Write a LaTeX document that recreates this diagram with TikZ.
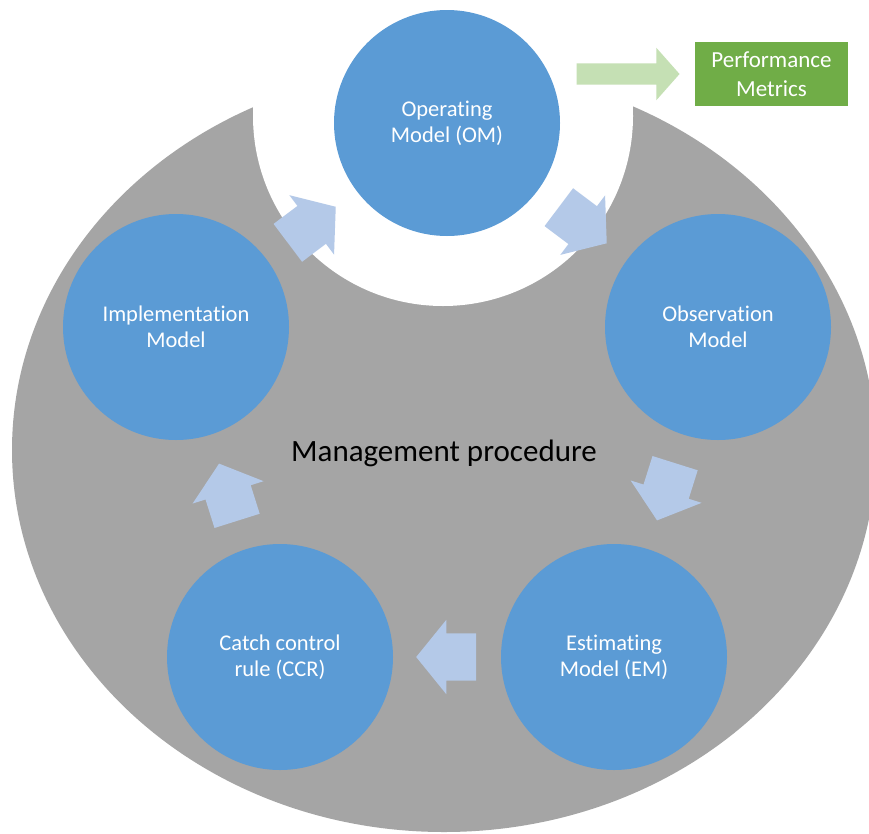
\documentclass[tikz,border=0pt]{standalone}
\usepackage{fontspec}
\setmainfont{Carlito}[Ligatures=NoCommon]
\usepackage{tikz}
\usetikzlibrary{shapes.arrows,positioning}

\definecolor{mpgrey}{HTML}{A5A5A5}
\definecolor{mpblue}{HTML}{5B9BD5}
\definecolor{mplight}{HTML}{B4C9E8}
\definecolor{mpgreen}{HTML}{70AD47}
\definecolor{mppale}{HTML}{C5E0B4}

\begin{document}
\begin{tikzpicture}[x=1pt,y=-1pt]
    \tikzset{vertex/.style = {shape=circle,fill=mpblue,minimum size=226pt,inner sep=0pt,align=center,text=white,font=\fontsize{22.5}{26}\selectfont}}
    \tikzset{flow/.style = {single arrow,fill=mplight,minimum height=60pt,inner xsep=0pt,inner ysep=23.5pt,single arrow head extend=13.5pt,single arrow tip angle=102,sloped,allow upside down,pos=0.412,anchor=tail}}
    \useasboundingbox (0,0) rectangle (869,833);
    \fill[white] (0,0) rectangle (869,833);
    % background
    \begin{scope}
    \clip (0,0) rectangle (869,833);
    \fill[mpgrey] (444,450) ellipse [x radius=432pt, y radius=382pt];
    \end{scope}
    \fill[white] (443,116) circle [radius=190pt];
    % vertices
    \node[vertex] (a) at (447,123) {Operating\\Model (OM)};
    \node[vertex] (b) at (718,327) {Observation\\Model};
    \node[vertex] (c) at (614,657) {Estimating\\Model (EM)};
    \node[vertex] (d) at (280,657) {Catch control\\rule (CCR)};
    \node[vertex] (e) at (176,327) {Implementation\\Model};
    \node[font=\fontsize{31}{37}\selectfont] (mp) at (444,453) {Management procedure};
    \node[fill=mpgreen,text=white,minimum width=153pt,minimum height=64pt,align=center,font=\fontsize{23}{29}\selectfont] (f) at (771.5,74) {Performance\\Metrics};
    %edges
    \path (a.center) -- (b.center) node[flow] (ab) {};
    \path (b.center) -- (c.center) node[flow] (bc) {};
    \path (c.center) -- (d.center) node[flow] (cd) {};
    \path (d.center) -- (e.center) node[flow] (de) {};
    \path (e.center) -- (a.center) node[flow] (ea) {};
    \node[single arrow,fill=mppale,minimum height=103pt,inner xsep=0pt,inner ysep=10.5pt,single arrow head extend=15.5pt,single arrow tip angle=97,left=15pt of f] (af) {};
\end{tikzpicture}
\end{document}
